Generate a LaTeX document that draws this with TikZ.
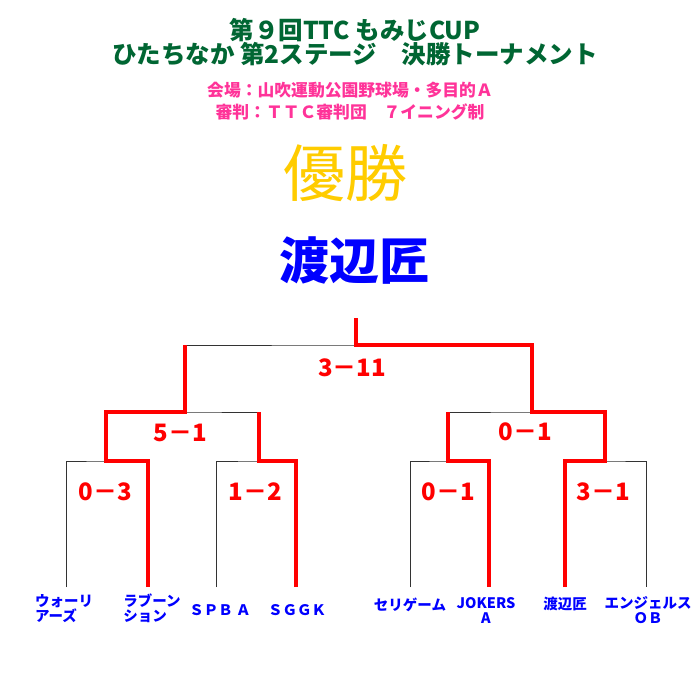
\documentclass[tikz,border=0pt]{standalone}
\usepackage{fontspec}
\newfontfamily\jp{Noto Sans CJK JP}
\usepackage{tikz}
\usetikzlibrary{positioning}
\definecolor{titlegreen}{RGB}{0,102,51}
\definecolor{venuepink}{RGB}{255,51,153}
\definecolor{gold}{RGB}{255,204,0}
\tikzset{head/.style={font=\jp\bfseries\fontsize{24.5}{24.5}\selectfont,text=titlegreen,align=center,inner sep=0pt},info/.style={font=\jp\bfseries\fontsize{16.8}{16}\selectfont,text=venuepink,inner sep=0pt},team/.style={font=\jp\bfseries\fontsize{14.5}{15}\selectfont,text=blue,align=center,inner sep=0pt},score/.style={font=\jp\bfseries\fontsize{24}{24}\selectfont,text=red,inner sep=0pt},bk/.style={draw=black!80,line width=0.8pt},win/.style={draw=red,line width=3.6pt}}
\begin{document}
\begin{tikzpicture}[x=1pt,y=-1pt]
\path[use as bounding box,fill=white] (0,0) rectangle (700,700);
\node[head] (title) at (355,42) {第９回TTC もみじCUP\\ひたちなか 第2ステージ　決勝トーナメント};
\node[info] (venue) at (350,90) {会場：山吹運動公園野球場・多目的Ａ};
\node[info] (umpire) at (350,112) {審判：ＴＴＣ審判団　７イニング制};
\node[font=\jp\fontsize{62}{62}\selectfont,text=gold,inner sep=0pt] (yusho) at (345,173) {優勝};
\node[font=\jp\bfseries\fontsize{50}{50}\selectfont,text=blue,inner sep=0pt] (champ) at (354,261) {渡辺匠};
% bracket points
\foreach \name/\xx in {t1/66,t2/148,t3/216,t4/296,t5/410,t6/489,t7/565,t8/646}
\coordinate (\name) at (\xx,587);
\foreach \name/\xx/\yy in {m1/106/461,m2/259/461,m3/448/461,m4/605/461,s1/185/412,s2/532/412,f/356/345,top/356/318}
\coordinate (\name) at (\xx,\yy);
\foreach \a/\m/\b in {t1/m1/t2,t3/m2/t4,t5/m3/t6,t7/m4/t8,m1/s1/m2,m3/s2/m4,s1/f/s2}
\draw[bk] (\a) |- (\m) -| (\b);
\draw[bk] (f)--(top);
% winners
\draw[win] (t2) |- (m1) |- (s1) -- (s1 |- f);
\draw[win] (t4) |- (m2) -- (m2 |- s1);
\draw[win] (t6) |- (m3) -- (m3 |- s2);
\draw[win] (t7) |- (m4) |- (s2) |- (f) -- (top);
% scores
\node[score] (sc0) at (352,368) {3－11};
\node[score] (sc1) at (180,433) {5－1};
\node[score] (sc2) at (525,432) {0－1};
\node[score] (sc3) at (105,492) {0－3};
\node[score] (sc4) at (255,492) {1－2};
\node[score] (sc5) at (448,492) {0－1};
\node[score] (sc6) at (603,492) {3－1};
% teams
\node[team,align=left,anchor=north] (n1) at (64,594) {ウォーリ\\アーズ};
\node[team,align=left,anchor=north] (n2) at (152,594) {ラブーン\\ション};
\node[team] (n3) at (220,610) {ＳＰＢ Ａ};
\node[team] (n4) at (297,610) {ＳＧＧＫ};
\node[team] (n5) at (410,605) {セリゲーム};
\node[team,anchor=north] (n6) at (486,597) {JOKERS\\A};
\node[team] (n7) at (565,604) {渡辺匠};
\node[team,anchor=north] (n8) at (648,596) {エンジェルス\\ＯＢ};
\end{tikzpicture}
\end{document}
